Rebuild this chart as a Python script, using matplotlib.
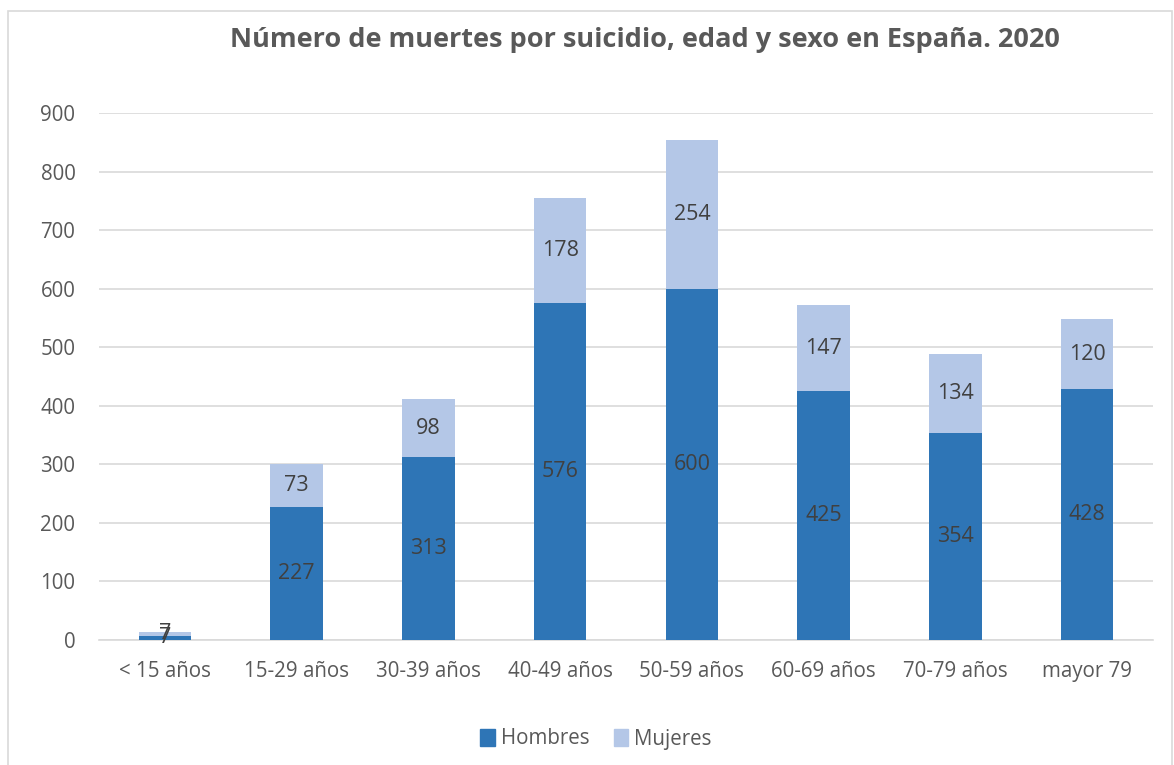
import matplotlib
matplotlib.use("Agg")
import matplotlib.pyplot as plt
import matplotlib.patches as mpatches
import numpy as np

categories = ["< 15 años", "15-29 años", "30-39 años", "40-49 años", "50-59 años",
              "60-69 años", "70-79 años", "mayor 79"]
hombres = [7, 227, 313, 576, 600, 425, 354, 428]
mujeres = [7, 73, 98, 178, 254, 147, 134, 120]
yticks = [0, 100, 200, 300, 400, 500, 600, 700, 800, 900]
title = "Número de muertes por suicidio, edad y sexo en España. 2020"

plt.rcParams['font.family'] = ['Open Sans', 'DejaVu Sans']

W, H = 1174, 765
fig = plt.figure(figsize=(W/100, H/100), dpi=100)
fig.patch.set_facecolor('white')

# chart border
fig.add_artist(mpatches.Rectangle((8/W, -0.01), (1172-8)/W, 1 - 11/H + 0.01,
                                  transform=fig.transFigure, fill=False,
                                  edgecolor='#D9D9D9', linewidth=1.2))

ax = fig.add_axes([99/W, 1-640/H, (1153-99)/W, (640-113)/H])
x = np.arange(len(categories))
c_h = '#2E75B6'
c_m = '#B4C7E7'
bw = 0.40
ax.bar(x, hombres, bw, color=c_h, label='Hombres', zorder=3)
ax.bar(x, mujeres, bw, bottom=hombres, color=c_m, label='Mujeres', zorder=3)

for i in range(len(categories)):
    ax.text(x[i], hombres[i]/2, str(hombres[i]), ha='center', va='center',
            fontsize=15.5, color='#404040', zorder=4)
    ax.text(x[i], hombres[i] + mujeres[i]/2, str(mujeres[i]), ha='center', va='center',
            fontsize=15.5, color='#404040', zorder=4)

ax.set_xlim(-0.5, len(categories)-0.5)
ax.set_ylim(0, 900)
ax.set_yticks(yticks)
ax.set_yticklabels([str(t) for t in yticks])
ax.set_xticks(x)
ax.set_xticklabels(categories)
ax.tick_params(axis='both', length=0, labelsize=14.8, labelcolor='#595959')
ax.tick_params(axis='y', pad=17)
ax.tick_params(axis='x', pad=15)
ax.grid(axis='y', color='#D9D9D9', linewidth=1.2, zorder=0)
for s in ['top', 'right', 'left']:
    ax.spines[s].set_visible(False)
ax.spines['bottom'].set_color('#D9D9D9')
ax.spines['bottom'].set_linewidth(1.2)

fig.text(645/W, 1-40/H, title, ha='center', va='center', fontsize=19.5,
         fontweight='bold', color='#595959')

handles = [mpatches.Patch(color=c_h), mpatches.Patch(color=c_m)]
fig.legend(handles, ['Hombres', 'Mujeres'], loc='center', bbox_to_anchor=(596/W, 1-739/H),
           ncol=2, frameon=False, fontsize=14.8, handlelength=0.7, handleheight=0.9,
           handletextpad=0.3, columnspacing=1.2, labelcolor='#595959')

fig.savefig('out.png', dpi=100, facecolor='white')
